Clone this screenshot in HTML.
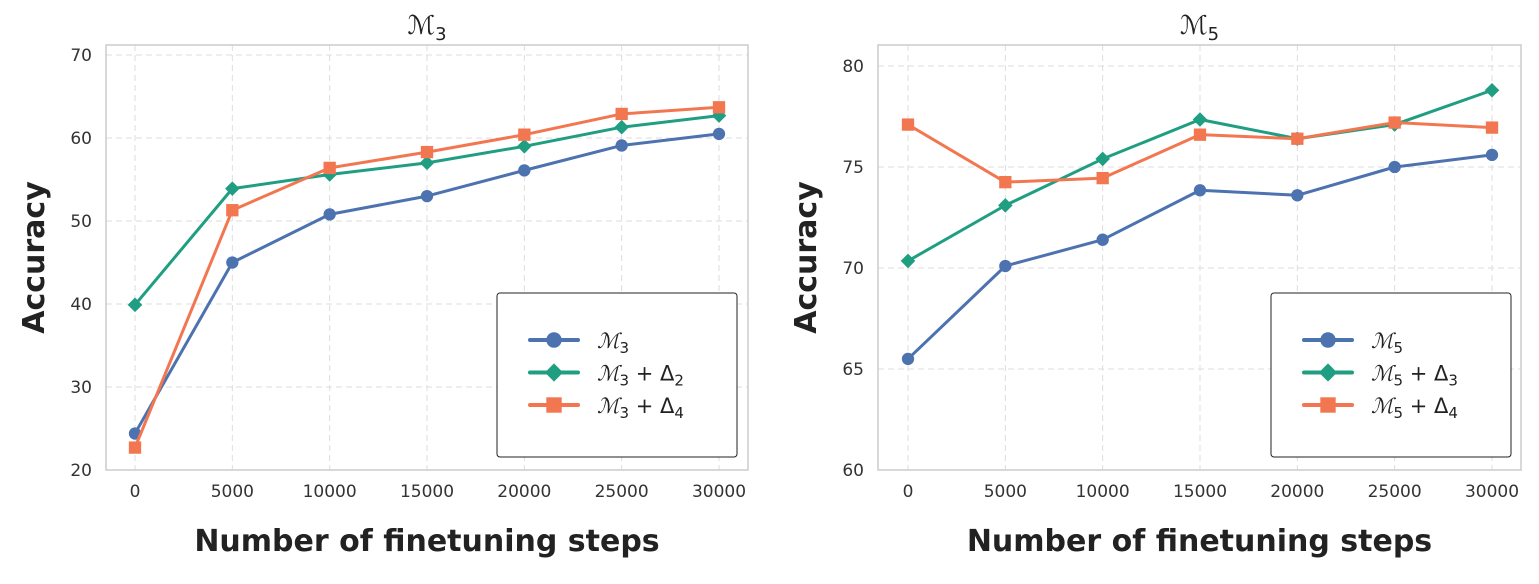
<!DOCTYPE html>
<html><head><meta charset="utf-8"><style>
body{margin:0;background:#fff;}
svg text{font-family:"DejaVu Sans","Liberation Sans",sans-serif;}
</style></head><body>
<svg id="chart" width="1539" height="579" xmlns="http://www.w3.org/2000/svg"></svg>
<script>
const steps=[0,5000,10000,15000,20000,25000,30000];
const leftBase=[24.4,45.0,50.8,53.0,56.1,59.1,60.5];
const leftD2=[39.9,53.9,55.6,57.0,59.0,61.3,62.7];
const leftD4=[22.7,51.3,56.4,58.3,60.4,62.9,63.7];
const rightBase=[65.5,70.1,71.4,73.85,73.6,75.0,75.6];
const rightD3=[70.35,73.1,75.4,77.35,76.4,77.1,78.8];
const rightD4=[77.1,74.25,74.45,76.6,76.4,77.2,76.95];
const leftYTicks=[20,30,40,50,60,70];
const rightYTicks=[60,65,70,75,80];
const xTickLabels=["0","5000","10000","15000","20000","25000","30000"];

const NS="http://www.w3.org/2000/svg";
const svg=document.getElementById('chart');
function mk(tag,attrs,parent){const e=document.createElementNS(NS,tag);for(const k in attrs)e.setAttribute(k,attrs[k]);(parent||svg).appendChild(e);return e;}
const C={blue:"#4c72b0",green:"#1f9e82",orange:"#f27750"};

function panel(p){
  const g=mk('g',{});
  
  
  const X=v=>p.x0+(v-0)/30000*(p.x1-p.x0);
  const Y=v=>p.yb-(v-p.ymin)/(p.ymax-p.ymin)*(p.yb-p.yt);
  steps.forEach((s,i)=>{
    const l=mk('line',{x1:X(s),x2:X(s),y1:p.top,y2:p.bottom,stroke:"#ddd","stroke-dasharray":"6,4","stroke-width":1},g);
    
    const t=mk('text',{x:X(s),y:p.bottom+27,"text-anchor":"middle","font-size":17,fill:"#333"},g);
    t.textContent=xTickLabels[i];
    
  });
  p.yticks.forEach(v=>{
    const l=mk('line',{x1:p.left,x2:p.right,y1:Y(v),y2:Y(v),stroke:"#ddd","stroke-dasharray":"6,4","stroke-width":1},g);
    
    const t=mk('text',{x:p.left-14,y:Y(v)+6,"text-anchor":"end","font-size":17,fill:"#333"},g);
    t.textContent=v;
    
  });
  const fr=mk('rect',{x:p.left,y:p.top,width:p.right-p.left,height:p.bottom-p.top,fill:"none",stroke:"#ccc","stroke-width":1.5},g);
  
  p.series.forEach(s=>{
    const pl=mk('polyline',{points:s.vals.map((v,i)=>X(steps[i])+","+Y(v)).join(" "),fill:"none",stroke:s.color,"stroke-width":3,"stroke-linejoin":"round"},g);
    
    s.vals.forEach((v,i)=>{
      const m=marker(s.shape,X(steps[i]),Y(v),s.color,g,1.12);
      
    });
  });
  const tt=mk('text',{x:(p.left+p.right)/2,y:34,"text-anchor":"middle","font-size":26,fill:"#222","font-family":"DejaVu Serif,serif","font-style":"italic"},g);
  tt.innerHTML='ℳ<tspan font-size="18" dy="6" font-style="normal">'+p.sub+'</tspan>';
  
  const yl=mk('text',{x:0,y:0,transform:`translate(${p.left-62},${(p.top+p.bottom)/2}) rotate(-90)`,"text-anchor":"middle","font-size":30,"font-weight":"bold",fill:"#222"},g);
  yl.textContent="Accuracy";
  
  const xl=mk('text',{x:(p.left+p.right)/2,y:551,"text-anchor":"middle","font-size":30,"font-weight":"bold",fill:"#222"},g);
  xl.textContent="Number of finetuning steps";
  
  const lg=mk('g',{},g);
  
  mk('rect',{x:p.lx,y:293,width:240,height:164,rx:3,fill:"#fff",stroke:"#222","stroke-width":1},lg);
  p.series.forEach((s,i)=>{
    const y=340+i*32.5;
    const e=mk('g',{},lg);
    
    mk('line',{x1:p.lx+33,x2:p.lx+81,y1:y,y2:y,stroke:s.color,"stroke-width":4,"stroke-linecap":"round"},e);
    marker(s.shape,p.lx+57,y,s.color,e,1.4);
    const t=mk('text',{x:p.lx+100,y:y+8,"font-size":21,fill:"#222"},e);
    t.innerHTML='<tspan font-family="DejaVu Serif,serif" font-style="italic">ℳ</tspan><tspan font-size="15" dy="5">'+p.sub+'</tspan>'+(s.d?'<tspan dy="-5"> + Δ</tspan><tspan font-size="15" dy="5">'+s.d+'</tspan>':'');
  });
}
function marker(shape,x,y,c,g,sc){
  sc=sc||1;
  if(shape==='o')return mk('circle',{cx:x,cy:y,r:5.5*sc,fill:c},g);
  if(shape==='D'){const r=6.5*sc;return mk('polygon',{points:`${x},${y-r} ${x+r},${y} ${x},${y+r} ${x-r},${y}`,fill:c},g);}
  const h=5.5*sc;return mk('rect',{x:x-h,y:y-h,width:2*h,height:2*h,fill:c},g);
}
panel({name:'left-panel',left:106,right:748,top:45,bottom:470,x0:135,x1:719,ymin:20,ymax:70,yb:470,yt:55,yticks:leftYTicks,sub:'3',lx:497,
  series:[{id:'m3',vals:leftBase,color:C.blue,shape:'o'},{id:'m3-d2',vals:leftD2,color:C.green,shape:'D',d:'2'},{id:'m3-d4',vals:leftD4,color:C.orange,shape:'s',d:'4'}]});
panel({name:'right-panel',left:878,right:1521,top:45,bottom:470,x0:908,x1:1492,ymin:60,ymax:80,yb:470,yt:66,yticks:rightYTicks,sub:'5',lx:1271,
  series:[{id:'m5',vals:rightBase,color:C.blue,shape:'o'},{id:'m5-d3',vals:rightD3,color:C.green,shape:'D',d:'3'},{id:'m5-d4',vals:rightD4,color:C.orange,shape:'s',d:'4'}]});
</script>
</body></html>
